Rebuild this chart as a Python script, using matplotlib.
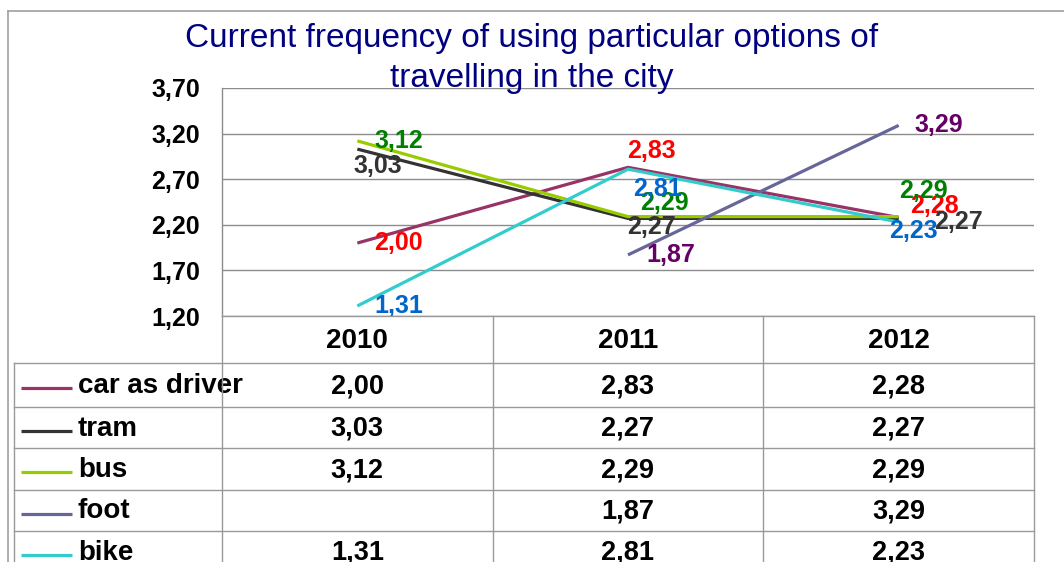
import matplotlib
matplotlib.use("Agg")
import matplotlib.pyplot as plt
import numpy as np

years = ["2010", "2011", "2012"]
series_names = ["car as driver", "tram", "bus", "foot", "bike"]
car = [2.00, 2.83, 2.28]
tram = [3.03, 2.27, 2.27]
bus = [3.12, 2.29, 2.29]
foot = [None, 1.87, 3.29]
bike = [1.31, 2.81, 2.23]
yticks = [1.20, 1.70, 2.20, 2.70, 3.20, 3.70]
title = "Current frequency of using particular options of\ntravelling in the city"

line_colors = ["#993366", "#333333", "#99CC00", "#666699", "#33CCCC"]
label_colors = ["#FF0000", "#333333", "#008000", "#660066", "#0066CC"]
# label offsets in pixels (dx right, dy down) per series per year
label_offsets = [
    [(17, 0), (-1, -16), (11, -12)],
    [(-4, 17), (-1, 9), (35, 4)],
    [(17, 0), (12, -14), (0, -26)],
    [None, (18, 0), (16, 0)],
    [(17, 0), (5, 20), (-10, 9)],
]

W, H = 1064, 562
FONT = "Liberation Sans"
plt.rcParams["font.family"] = [FONT, "DejaVu Sans"]

fig = plt.figure(figsize=(W / 100, H / 100), dpi=100)
L, R, T, B = 222, 1034, 88, 316
ax = fig.add_axes([L / W, 1 - B / H, (R - L) / W, (B - T) / H])

data = [car, tram, bus, foot, bike]
x = np.arange(len(years))
for vals, col in zip(data, line_colors):
    xs = [xi for xi, v in zip(x, vals) if v is not None]
    ys = [v for v in vals if v is not None]
    ax.plot(xs, ys, color=col, lw=2.3, solid_capstyle="butt", zorder=3)

for vals, lc, offs in zip(data, label_colors, label_offsets):
    for xi, v, off in zip(x, vals, offs):
        if v is None:
            continue
        ax.annotate(f"{v:.2f}".replace(".", ","), (xi, v),
                    xytext=(off[0] * 0.72, -off[1] * 0.72), textcoords="offset points",
                    ha="left", va="center", color=lc, fontsize=18,
                    fontweight="bold", zorder=5, annotation_clip=False)

ax.set_xlim(-0.5, len(years) - 0.5)
ax.set_ylim(yticks[0], yticks[-1])
ax.set_yticks(yticks)
ax.set_yticklabels([f"{t:.2f}".replace(".", ",") for t in yticks],
                   fontsize=18, fontweight="bold")
ax.tick_params(axis="y", length=0, pad=16)
ax.set_xticks([])
ax.grid(axis="y", color="#8c8c8c", lw=1.0)
ax.set_axisbelow(True)
for s in ["top", "right", "bottom"]:
    ax.spines[s].set_visible(False)
ax.spines["left"].set_color("#8c8c8c")
ax.spines["left"].set_linewidth(1.0)

# overlay for table and frame (pixel coords, origin top-left)
ov = fig.add_axes([0, 0, 1, 1])
ov.set_xlim(0, W)
ov.set_ylim(H, 0)
ov.axis("off")

gc = "#999999"
# chart frame
ov.plot([8, 8], [11, H], color="#a0a0a0", lw=1.2)
ov.plot([8, W], [11, 11], color="#a0a0a0", lw=1.2)

edges = [ax.transData.transform((i - 0.5, yticks[0]))[0] for i in range(len(years) + 1)]
centers = [ax.transData.transform((i, yticks[0]))[0] for i in range(len(years))]
header_bottom = 363
row_lines = [363, 407, 448, 490, 531, 573]

ov.plot([edges[0], edges[-1]], [B, B], color=gc, lw=1.0)
for e in edges:
    ov.plot([e, e], [B, H], color=gc, lw=1.0)
ov.plot([14, 14], [header_bottom, H], color=gc, lw=1.0)
for yl in row_lines[:-1]:
    ov.plot([14, edges[-1]], [yl, yl], color=gc, lw=1.0)

for c, yr in zip(centers, years):
    ov.text(c, (B + header_bottom) / 2 + 1, yr, ha="center", va="center",
            fontsize=20, fontweight="bold", color="black")

for k, (name, vals, col) in enumerate(zip(series_names, data, line_colors)):
    yc = (row_lines[k] + row_lines[k + 1]) / 2 + 1
    ov.plot([21, 72], [yc + 2, yc + 2], color=col, lw=2.3, solid_capstyle="butt")
    ov.text(78, yc, name, ha="left", va="center", fontsize=20,
            fontweight="bold", color="black", zorder=1)
    for c, v in zip(centers, vals):
        if v is None:
            continue
        ov.text(c, yc, f"{v:.2f}".replace(".", ","), ha="center", va="center",
                fontsize=19.5, fontweight="bold", color="black")

fig.text(532 / W, 1 - 23 / H, title, ha="center", va="top", fontsize=24,
         color="#000080", linespacing=1.38)

fig.savefig("out.png", dpi=100, facecolor="white")
